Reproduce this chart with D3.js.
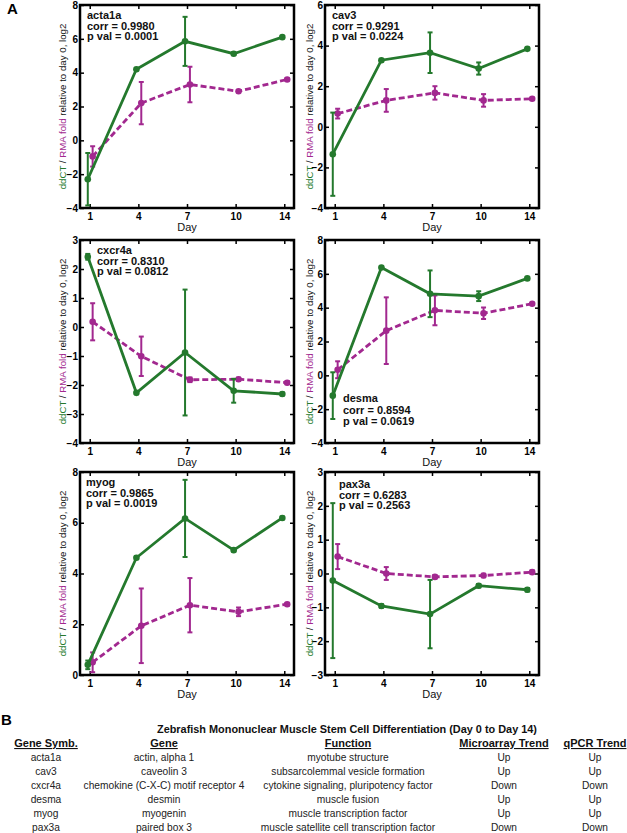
<!DOCTYPE html>
<meta charset="utf-8">
<script src="https://d3js.org/d3.v7.min.js"></script>
<style>
  body { margin: 0; background: #fff; }
  text { font-family: "Liberation Sans", Arial, sans-serif; }
</style>
<div id="fig"></div>
<script>
  // days of differentiation (x categories)
  var days = ["1", "4", "7", "10", "14"];

  // ddCT (qPCR, green) and RMA fold (microarray, magenta), log2, with error half-widths
  var acta1aCT = [-2.3, 4.2, 5.85, 5.12, 6.1];
  var acta1aCTErr = [1.55, 0.05, 1.45, 0.08, 0.05];
  var acta1aRMA = [-0.95, 2.2, 3.3, 2.9, 3.6];
  var acta1aRMAErr = [0.6, 1.25, 1.05, 0.05, 0.05];

  var cav3CT = [-1.35, 3.28, 3.65, 2.87, 3.84];
  var cav3CTErr = [2.05, 0.05, 1.0, 0.3, 0.05];
  var cav3RMA = [0.65, 1.3, 1.67, 1.3, 1.38];
  var cav3RMAErr = [0.24, 0.56, 0.33, 0.31, 0.05];

  var cxcr4aCT = [2.42, -2.27, -0.88, -2.2, -2.31];
  var cxcr4aCTErr = [0.1, 0.05, 2.17, 0.41, 0.05];
  var cxcr4aRMA = [0.18, -1.01, -1.82, -1.8, -1.92];
  var cxcr4aRMAErr = [0.64, 0.68, 0.08, 0.05, 0.05];

  var desmaCT = [-1.2, 6.37, 4.82, 4.68, 5.73];
  var desmaCTErr = [1.38, 0.05, 1.38, 0.29, 0.05];
  var desmaRMA = [0.33, 2.64, 3.84, 3.67, 4.23];
  var desmaRMAErr = [0.5, 1.97, 0.88, 0.34, 0.05];

  var myogCT = [0.4, 4.62, 6.17, 4.92, 6.19];
  var myogCTErr = [0.17, 0.05, 1.52, 0.05, 0.05];
  var myogRMA = [0.5, 1.94, 2.75, 2.49, 2.79];
  var myogRMAErr = [0.39, 1.47, 1.07, 0.17, 0.05];

  var pax3aCT = [-0.21, -0.96, -1.2, -0.36, -0.48];
  var pax3aCTErr = [2.29, 0.05, 1.01, 0.05, 0.05];
  var pax3aRMA = [0.5, 0.0, -0.1, -0.06, 0.04];
  var pax3aRMAErr = [0.37, 0.19, 0.05, 0.05, 0.05];

  // table B
  var tableTitle = "Zebrafish Mononuclear Muscle Stem Cell Differentiation (Day 0 to Day 14)";
  var tableHeaders = ["Gene Symb.", "Gene", "Function", "Microarray Trend", "qPCR Trend"];
  var geneSymbols = ["acta1a", "cav3", "cxcr4a", "desma", "myog", "pax3a"];
  var geneNames = ["actin, alpha 1", "caveolin 3", "chemokine (C-X-C) motif receptor 4", "desmin", "myogenin", "paired box 3"];
  var geneFunctions = ["myotube structure", "subsarcolemmal vesicle formation", "cytokine signaling, pluripotency factor",
    "muscle fusion", "muscle transcription factor", "muscle satellite cell transcription factor"];
  var microarrayTrend = ["Up", "Up", "Down", "Up", "Up", "Down"];
  var qpcrTrend = ["Up", "Up", "Down", "Up", "Up", "Down"];

  var green = "#24792d", magenta = "#a2288f";
  var W = 214, H = 203;

  var panels = [
    { gene: "acta1a", corr: "0.9980", p: "0.0001", ct: acta1aCT, ctErr: acta1aCTErr, rma: acta1aRMA, rmaErr: acta1aRMAErr,
      y: [-4, 8], step: 2, x0: 80, y0: 5, nx: 7, ny: 14, ly: -14 },
    { gene: "cav3", corr: "0.9291", p: "0.0224", ct: cav3CT, ctErr: cav3CTErr, rma: cav3RMA, rmaErr: cav3RMAErr,
      y: [-4, 6], step: 2, x0: 325, y0: 5, nx: 7, ny: 14, ly: -12 },
    { gene: "cxcr4a", corr: "0.8310", p: "0.0812", ct: cxcr4aCT, ctErr: cxcr4aCTErr, rma: cxcr4aRMA, rmaErr: cxcr4aRMAErr,
      y: [-4, 3], step: 1, x0: 80, y0: 240, nx: 17, ny: 14, ly: -14 },
    { gene: "desma", corr: "0.8594", p: "0.0619", ct: desmaCT, ctErr: desmaCTErr, rma: desmaRMA, rmaErr: desmaRMAErr,
      y: [-4, 8], step: 2, x0: 325, y0: 240, nx: 18, ny: 162, ly: -12, gap: 11.5 },
    { gene: "myog", corr: "0.9865", p: "0.0019", ct: myogCT, ctErr: myogCTErr, rma: myogRMA, rmaErr: myogRMAErr,
      y: [0, 8], step: 2, x0: 80, y0: 472, nx: 6, ny: 14, ly: -14 },
    { gene: "pax3a", corr: "0.6283", p: "0.2563", ct: pax3aCT, ctErr: pax3aCTErr, rma: pax3aRMA, rmaErr: pax3aRMAErr,
      y: [-3, 3], step: 1, x0: 325, y0: 472, nx: 14, ny: 16, ly: -12 }
  ];

  var svg = d3.select("#fig").append("svg")
    .attr("width", 627)
    .attr("height", 833);

  // panel letters
  svg.append("text").attr("x", 7).attr("y", 14).style("font-size", "15px").style("font-weight", "bold").text("A");
  svg.append("text").attr("x", 1).attr("y", 725).style("font-size", "15px").style("font-weight", "bold").text("B");

  panels.forEach(function (p) {
    var g = svg.append("g").attr("transform", "translate(" + p.x0 + "," + p.y0 + ")");
    g.append("rect").attr("width", W).attr("height", H).attr("fill", "#fff");

    var x = d3.scaleLinear().domain([0.8, 5.2]).range([0, W]);
    var y = d3.scaleLinear().domain(p.y).range([H, 0]);
    var yt = d3.range(p.y[0], p.y[1] + 0.001, p.step);
    var xt = [1, 2, 3, 4, 5];

    var axL = g.append("g").call(d3.axisLeft(y).tickValues(yt).tickSize(-4).tickSizeOuter(0).tickPadding(2).tickFormat(d3.format("d")));
    var axR = g.append("g").attr("transform", "translate(" + W + ",0)").call(d3.axisRight(y).tickValues(yt).tickSize(-4).tickSizeOuter(0).tickFormat(""));
    var axB = g.append("g").attr("transform", "translate(0," + H + ")")
      .call(d3.axisBottom(x).tickValues(xt).tickSize(-4).tickSizeOuter(0).tickPadding(5).tickFormat(function (d) { return days[d - 1]; }));
    var axT = g.append("g").call(d3.axisTop(x).tickValues(xt).tickSize(-4).tickSizeOuter(0).tickFormat(""));
    [axL, axR, axB, axT].forEach(function (a) {
      a.select(".domain").remove();
      a.selectAll("line").attr("stroke", "#000").attr("stroke-width", 1.5);
      a.selectAll("text").attr("fill", "#000").style("font-size", "10px").style("font-weight", "bold")
        .style("font-family", "'Liberation Sans', Arial, sans-serif");
    });

    // series: magenta RMA (dashed), green ddCT (solid)
    var series = [
      { v: p.rma, e: p.rmaErr, c: magenta, dx: 0.06, dash: "6,3" },
      { v: p.ct, e: p.ctErr, c: green, dx: -0.04, dash: null }
    ];
    series.forEach(function (s) {
      var pts = s.v.map(function (v, i) { return { x: i + 1 + s.dx, v: v, e: s.e[i] }; });
      g.append("path").datum(pts)
        .attr("fill", "none").attr("stroke", s.c).attr("stroke-width", 2.8)
        .attr("stroke-dasharray", s.dash)
        .attr("d", d3.line().x(function (d) { return x(d.x); }).y(function (d) { return y(d.v); }));
      var eb = g.append("g").attr("stroke", s.c).attr("stroke-width", 2);
      eb.selectAll(".v").data(pts).enter().append("line")
        .attr("x1", function (d) { return x(d.x); }).attr("x2", function (d) { return x(d.x); })
        .attr("y1", function (d) { return y(d.v - d.e); }).attr("y2", function (d) { return y(d.v + d.e); });
      [-1, 1].forEach(function (sg) {
        eb.selectAll(".c" + sg).data(pts).enter().append("line")
          .attr("x1", function (d) { return x(d.x) - 2.5; }).attr("x2", function (d) { return x(d.x) + 2.5; })
          .attr("y1", function (d) { return y(d.v + sg * d.e); }).attr("y2", function (d) { return y(d.v + sg * d.e); });
      });
      g.selectAll(null).data(pts).enter().append("circle")
        .attr("cx", function (d) { return x(d.x); }).attr("cy", function (d) { return y(d.v); })
        .attr("r", 3.3).attr("fill", s.c);
    });

    // frame
    g.append("rect").attr("width", W).attr("height", H)
      .attr("fill", "none").attr("stroke", "#000").attr("stroke-width", 2.5);

    // annotation
    var gap = p.gap || 10.5;
    var note = g.append("text").attr("x", p.nx).attr("y", p.ny)
      .style("font-size", "11px").style("font-weight", "bold").attr("fill", "#111");
    [p.gene, "corr = " + p.corr, "p val = " + p.p].forEach(function (t, i) {
      note.append("tspan").attr("x", p.nx).attr("dy", i === 0 ? 0 : gap).text(t);
    });

    // axis labels
    g.append("text").attr("x", W / 2).attr("y", H + 23).attr("text-anchor", "middle")
      .style("font-size", "11px").attr("fill", "#111").text("Day");
    var yl = g.append("text").attr("transform", "translate(" + p.ly + "," + (H / 2) + ") rotate(-90)")
      .attr("text-anchor", "middle").style("font-size", "9.7px").attr("fill", "#111");
    yl.append("tspan").attr("fill", green).text("ddCT");
    yl.append("tspan").text(" / ");
    yl.append("tspan").attr("fill", magenta).text("RMA fold");
    yl.append("tspan").text(" relative to day 0, log2");
  });

  // table B
  var cols = [46, 164, 348, 504, 595];
  var tb = svg.append("g");
  tb.append("text").attr("x", 347).attr("y", 733).attr("text-anchor", "middle")
    .attr("textLength", 380).attr("lengthAdjust", "spacingAndGlyphs")
    .style("font-size", "11.5px").style("font-weight", "bold").attr("fill", "#111").text(tableTitle);
  tableHeaders.forEach(function (h, i) {
    tb.append("text").attr("x", cols[i]).attr("y", 747).attr("text-anchor", "middle")
      .style("font-size", "11px").style("font-weight", "bold").style("text-decoration", "underline")
      .attr("fill", "#111").text(h);
  });
  var rows = [geneSymbols, geneNames, geneFunctions, microarrayTrend, qpcrTrend];
  geneSymbols.forEach(function (s, r) {
    rows.forEach(function (col, c) {
      tb.append("text").attr("x", cols[c]).attr("y", 761 + r * 13.9).attr("text-anchor", "middle")
        .style("font-size", "10.2px").attr("fill", "#222").text(col[r]);
    });
  });
</script>
